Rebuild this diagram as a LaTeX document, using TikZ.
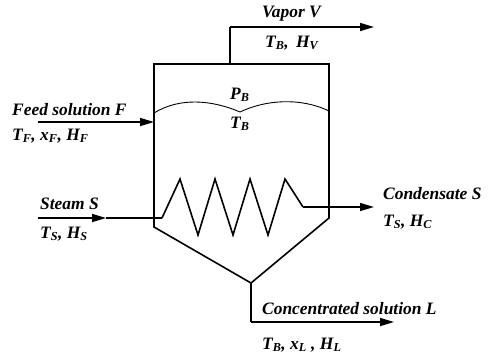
\documentclass[tikz,border=0pt]{standalone}
\usepackage{fontspec}
\setmainfont{Liberation Serif}
\usetikzlibrary{arrows.meta}

\begin{document}
\begin{tikzpicture}[x=1bp,y=-1bp,
    wall/.style={line width=1.6pt},
    flow/.style={line width=1.6pt,-{Triangle[length=14bp,width=8bp]}},
    lbl/.style={font=\fontsize{17.5}{20}\selectfont\bfseries\itshape,inner sep=0pt,anchor=west}]
    \useasboundingbox (0,0) rectangle (495,354);

    % Vessel corners
    \coordinate (tl) at (154,64);
    \coordinate (tr) at (329,64);
    \coordinate (bl) at (154,227);
    \coordinate (br) at (329,218);
    \coordinate (bot) at (251,283);

    % Vessel outline
    \draw[wall] (tl) -- (tr) -- (br) -- (bot) -- (bl) -- cycle;

    % Vapor outlet
    \coordinate (vapup) at (230,64);
    \coordinate (vapbend) at (230,27);
    \coordinate (vapend) at (374,27);
    \draw[wall] (vapup) -- (vapbend);
    \draw[flow] (vapbend) -- (vapend);
    \node[lbl] (vapor) at (262,14) {Vapor V};
    \node[lbl] (vapstate) at (265,43) {T\textsubscript{B},\, H\textsubscript{V}};

    % Liquid surface
    \draw[line width=0.9pt] (154,113) .. controls (180,97) and (212,100) .. (240,112)
        .. controls (265,100) and (300,97) .. (329,111);
    \node[lbl] (press) at (230,95) {P\textsubscript{B}};
    \node[lbl] (temp) at (230,124) {T\textsubscript{B}};

    % Feed inlet
    \coordinate (feedin) at (38,122);
    \coordinate (feedwall) at (154,122);
    \draw[flow] (feedin) -- (feedwall);
    \node[lbl] (feed) at (12,110) {Feed solution F};
    \node[lbl] (feedstate) at (12,136) {T\textsubscript{F}, x\textsubscript{F}, H\textsubscript{F}};

    % Steam inlet
    \coordinate (steamin) at (38,218);
    \coordinate (steammid) at (106,218);
    \coordinate (coilin) at (162,218);
    \draw[flow] (steamin) -- (steammid);
    \draw[wall] (steammid) -- (coilin);
    \node[lbl] (steam) at (40,204) {Steam S};
    \node[lbl] (steamstate) at (40,234) {T\textsubscript{S}, H\textsubscript{S}};

    % Heating coil
    \coordinate (coilout) at (303,207);
    \draw[wall,line join=miter] (coilin) -- (180,179) -- (198,235) -- (215,179) -- (233,235)
        -- (250,179) -- (268,235) -- (285,179) -- (coilout);

    % Condensate outlet
    \coordinate (condend) at (374,207);
    \draw[flow] (coilout) -- (condend);
    \node[lbl] (cond) at (383,194) {Condensate S};
    \node[lbl] (condstate) at (383,222) {T\textsubscript{S}, H\textsubscript{C}};

    % Concentrated solution outlet
    \coordinate (liqbend) at (251,322);
    \coordinate (liqend) at (394,322);
    \draw[wall] (bot) -- (liqbend);
    \draw[flow] (liqbend) -- (liqend);
    \node[lbl] (conc) at (262,309) {Concentrated solution L};
    \node[lbl] (concstate) at (262,345) {T\textsubscript{B}, x\textsubscript{L} , H\textsubscript{L}};
\end{tikzpicture}
\end{document}
